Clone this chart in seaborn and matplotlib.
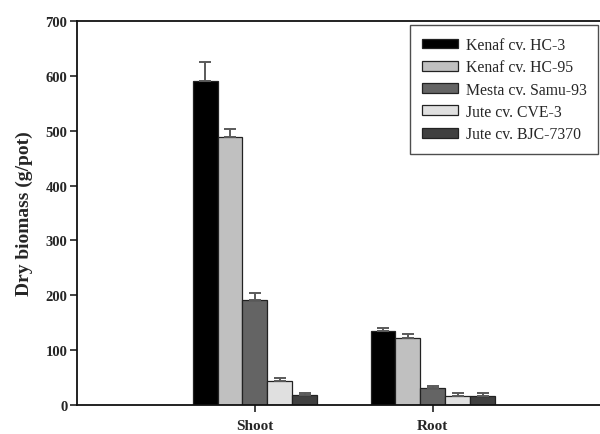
import matplotlib
matplotlib.use("Agg")
import matplotlib.pyplot as plt
import seaborn as sns
import pandas as pd
import numpy as np

organs = ["Shoot", "Root"]
cultivars = ["Kenaf cv. HC-3", "Kenaf cv. HC-95", "Mesta cv. Samu-93",
             "Jute cv. CVE-3", "Jute cv. BJC-7370"]
shoot_vals = [590, 488, 192, 43, 18]
root_vals = [134, 122, 31, 17, 17]
shoot_err = [35, 15, 12, 6, 3]
root_err = [6, 7, 4, 4, 4]
colors = ["#000000", "#c0c0c0", "#646464", "#e0e0e0", "#404040"]

rows = []
for o, vals, errs in [("Shoot", shoot_vals, shoot_err), ("Root", root_vals, root_err)]:
    for c, v, e in zip(cultivars, vals, errs):
        rows.append({"organ": o, "cultivar": c, "value": v, "err": e})
df = pd.DataFrame(rows)

sns.set_style("ticks")
plt.rcParams["font.family"] = ["Liberation Serif", "DejaVu Serif"]

fig = plt.figure(figsize=(6.0, 4.35), dpi=100)
ax = fig.add_axes([77/600, 1 - 406/435, 1 - 77/600, (406 - 22)/435])

sns.barplot(data=df, x="organ", y="value", hue="cultivar", order=organs,
            hue_order=cultivars, palette=colors, width=0.7, errorbar=None,
            edgecolor="#222222", linewidth=0.9, ax=ax, legend=True)

# one-sided error bars positioned from the drawn bars
for container, cult in zip(ax.containers, cultivars):
    sub = df[df.cultivar == cult].set_index("organ").loc[organs]
    xs = [p.get_x() + p.get_width() / 2 for p in container.patches]
    hs = [p.get_height() for p in container.patches]
    ax.errorbar(xs, hs, yerr=[np.zeros(len(xs)), sub["err"].values],
                fmt="none", ecolor="#5a5a5a", elinewidth=1.4, capsize=4.5,
                capthick=1.4, zorder=1)

ax.set_xlim(-1, 1.94)
ax.set_ylim(0, 700)
ax.set_yticks(range(0, 701, 100))
ax.set_xlabel("")
ax.set_ylabel("Dry biomass (g/pot)", fontsize=14, fontweight="bold", labelpad=9)
for lab in ax.get_yticklabels():
    lab.set_fontweight("bold")
    lab.set_fontsize(10.5)
for lab in ax.get_xticklabels():
    lab.set_fontweight("bold")
    lab.set_fontsize(11)
ax.tick_params(axis="both", direction="out", length=5, width=1.2, color="#222222")
ax.tick_params(axis="y", pad=2)
ax.tick_params(axis="x", pad=5)
for s in ["left", "bottom", "top"]:
    ax.spines[s].set_linewidth(1.3)
    ax.spines[s].set_color("#111111")
ax.spines["right"].set_visible(False)

leg = ax.legend(loc="upper right", bbox_to_anchor=(1.0, 0.993), fontsize=11.3,
                frameon=True, fancybox=False, edgecolor="#222222",
                handlelength=2.3, handleheight=0.6, labelspacing=0.4,
                borderpad=0.75, handletextpad=0.5, borderaxespad=0.1)
leg.get_frame().set_linewidth(1.0)

fig.savefig("out.png", dpi=100)
